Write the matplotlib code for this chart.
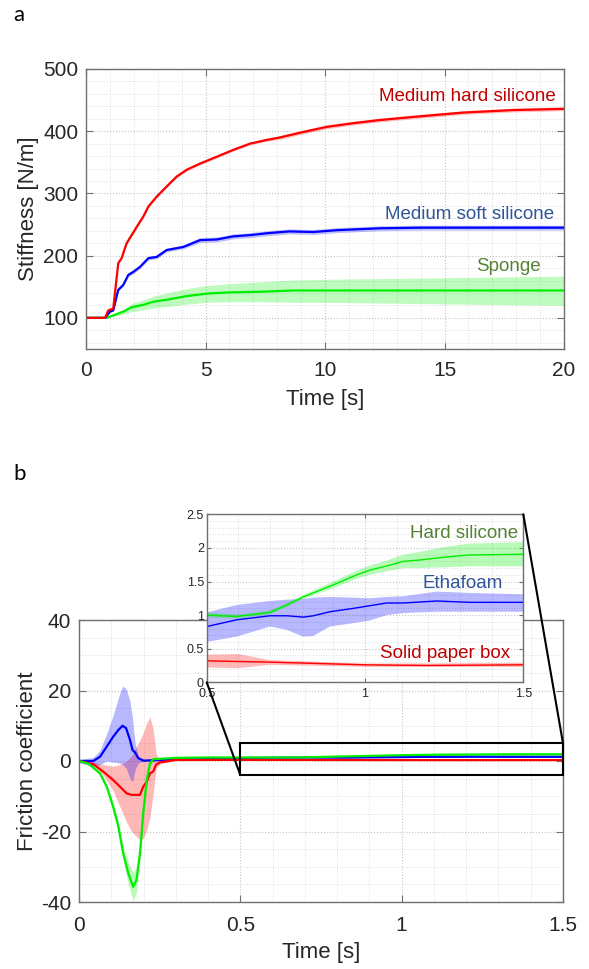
import matplotlib
matplotlib.use("Agg")
import matplotlib.pyplot as plt
from matplotlib.patches import Rectangle, ConnectionPatch
from matplotlib.ticker import MultipleLocator, FuncFormatter

plt.rcParams['font.family'] = ['Liberation Sans', 'DejaVu Sans']

# ---------------- Stiffness data (panel a) ----------------
hard_t = [0, 0.8, 0.93, 1.14, 1.35, 1.49, 1.70, 1.91, 2.15, 2.40, 2.61, 2.96, 3.37, 3.79,
          4.21, 4.77, 5.47, 6.16, 6.86, 7.56, 8.12, 9.0, 10.07, 11.2, 12.3, 13.7, 15.79,
          17.88, 20]
hard_k = [100, 100, 112, 115, 188, 196, 220, 233, 248, 263, 279, 295, 311, 327,
          338, 348, 359, 370, 380, 386, 390, 398, 407, 413, 418, 423, 430,
          434, 436]
hard_sd = [0, 0, 1, 1, 2, 2, 2, 2, 2, 2, 2, 2, 2, 2,
           2, 2, 2, 2, 2, 2, 3, 3, 3, 3, 3, 3, 3,
           3, 3]

soft_t = [0, 0.8, 1.0, 1.14, 1.35, 1.56, 1.77, 1.98, 2.26, 2.61, 2.96, 3.37, 4.07, 4.77,
          5.47, 6.16, 6.86, 7.56, 8.5, 9.5, 10.5, 12.3, 14, 16, 18, 20]
soft_k = [100, 100, 110, 112, 145, 153, 169, 174, 182, 196, 198, 209, 214, 225,
          226, 231, 233, 236, 239, 238, 241, 244, 245, 245, 245, 245]
soft_sd = [0, 0, 1, 1, 2, 2, 2, 3, 3, 3, 3, 3, 3, 4,
           4, 4, 4, 4, 4, 4, 4, 4, 4, 4, 4, 4]

sponge_t = [0, 0.86, 1.21, 1.56, 1.91, 2.40, 2.82, 3.51, 4.21, 5.05, 6.03, 7.28, 8.67,
            10, 12, 14, 16, 18, 20]
sponge_k = [100, 100, 105, 110, 117, 121, 126, 130, 135, 139, 141, 142, 144,
            144, 144, 144, 144, 144, 144]
sponge_lo = [100, 100, 103, 106, 110, 113, 116, 119, 122, 125, 126, 126, 125,
             125, 124, 123, 122, 121, 120]
sponge_hi = [100, 100, 107, 114, 123, 129, 135, 141, 147, 152, 155, 158, 161,
             162, 163, 164, 165, 166, 167]

# ---------------- Friction data (panel b) ----------------
etha_t = [0, 0.044, 0.065, 0.086, 0.106, 0.122, 0.135, 0.146, 0.158, 0.166, 0.174, 0.184,
          0.2, 0.25, 0.35, 0.5, 0.595, 0.7, 0.753, 0.805, 0.837, 0.889, 0.963, 1.016,
          1.068, 1.121, 1.226, 1.33, 1.5]
etha_mu = [0, 0, 1.2, 4.1, 6.9, 8.8, 10, 9.3, 6, 3.1, 2.4, 0.8,
           0.1, 0.3, 0.6, 0.83, 0.93, 0.99, 0.99, 0.97, 0.99, 1.05, 1.1, 1.14,
           1.18, 1.18, 1.21, 1.19, 1.19]
etha_hi = [0.5, 1.0, 3, 7.8, 13, 18, 21.3, 20.5, 17, 12, 5, 1.2,
           0.4, 0.6, 0.9, 1.04, 1.15, 1.21, 1.23, 1.24, 1.26, 1.27, 1.26, 1.25,
           1.27, 1.28, 1.35, 1.33, 1.31]
etha_lo = [-0.5, -1.5, -1.0, 0, -0.3, -0.5, -1, -2, -5, -5.9, -2.5, -0.5,
           -0.1, 0.0, 0.3, 0.6, 0.68, 0.83, 0.78, 0.68, 0.69, 0.83, 0.88, 0.92,
           1.0, 1.03, 1.05, 1.05, 1.05]

paper_t = [0, 0.044, 0.075, 0.106, 0.127, 0.148, 0.163, 0.189, 0.199, 0.21, 0.22, 0.23,
           0.239, 0.251, 0.3, 0.5, 0.6, 0.7, 1.0, 1.2, 1.5]
paper_mu = [0, -0.9, -3, -5.4, -7.3, -9.2, -9.6, -9.6, -7.3, -5.9, -3.5, -3,
            -1, -0.4, 0.3, 0.32, 0.31, 0.30, 0.26, 0.25, 0.26]
paper_hi = [0.3, -0.2, -1.0, -1.5, -1.0, 0, 1.5, 6, 8, 10.8, 12.5, 9,
            2, 0.2, 0.4, 0.41, 0.42, 0.33, 0.28, 0.28, 0.29]
paper_lo = [-0.3, -1.2, -4, -8.5, -13, -17.5, -20, -22.4, -22, -19.6, -16, -9,
            -2, -0.8, 0.2, 0.22, 0.21, 0.26, 0.23, 0.23, 0.23]

hsil_t = [0, 0.03, 0.065, 0.086, 0.106, 0.122, 0.137, 0.153, 0.168, 0.178, 0.189, 0.199,
          0.21, 0.22, 0.23, 0.3, 0.4, 0.5, 0.595, 0.7, 0.753, 0.805, 0.858, 0.91, 0.974,
          1.016, 1.068, 1.121, 1.174, 1.247, 1.33, 1.5]
hsil_mu = [0, -0.8, -3.5, -7.3, -13, -18.6, -26.2, -31.9, -35.7, -33.8, -26.2, -14.8,
           -5.4, -0.7, 0.5, 0.9, 1.0, 1.0, 0.98, 1.04, 1.15, 1.27, 1.37, 1.47, 1.6,
           1.67, 1.73, 1.8, 1.82, 1.86, 1.895, 1.905]
hsil_sd = [0.2, 0.3, 0.5, 0.8, 1, 1.5, 2, 3, 4, 3.5, 2.5, 2,
           1.5, 0.8, 0.3, 0.05, 0.05, 0.04, 0.03, 0.03, 0.03, 0.03, 0.04, 0.05, 0.06,
           0.07, 0.08, 0.1, 0.12, 0.15, 0.17, 0.18]

RED, BLUE, GREEN = '#ff0000', '#0000ff', '#00ee00'
TXT_RED, TXT_BLUE, TXT_GREEN = '#c00000', '#2f5597', '#548235'
FRAME = '#707070'
TICKTXT = '#262626'


def fmt(v, _pos):
    return '%g' % v


def style(ax, xmaj, xmin, ymaj, ymin, size, pad_x, pad_y, length=5):
    ax.xaxis.set_major_locator(MultipleLocator(xmaj))
    ax.xaxis.set_minor_locator(MultipleLocator(xmin))
    ax.yaxis.set_major_locator(MultipleLocator(ymaj))
    ax.yaxis.set_minor_locator(MultipleLocator(ymin))
    ax.xaxis.set_major_formatter(FuncFormatter(fmt))
    ax.yaxis.set_major_formatter(FuncFormatter(fmt))
    ax.tick_params(which='both', direction='in', top=True, right=True,
                   color=FRAME, labelcolor=TICKTXT, labelsize=size)
    ax.tick_params(which='major', length=length, width=0.8)
    ax.tick_params(which='minor', length=0)
    ax.tick_params(axis='x', pad=pad_x)
    ax.tick_params(axis='y', pad=pad_y)
    ax.grid(which='major', ls=':', color='#c4c4c4', lw=0.8)
    ax.grid(which='minor', ls=':', color='#dedede', lw=0.7)
    ax.set_axisbelow(True)
    for s in ax.spines.values():
        s.set_color(FRAME)
        s.set_linewidth(1.0)


fig = plt.figure(figsize=(5.89, 9.69), dpi=100)

# ---------------- Panel a ----------------
ax_a = fig.add_axes([86 / 589, 1 - 349 / 969, 478 / 589, 280 / 969])
for t, k, sd, c in [(sponge_t, sponge_k, None, GREEN),
                    (soft_t, soft_k, soft_sd, BLUE),
                    (hard_t, hard_k, hard_sd, RED)]:
    if sd is None:
        ax_a.fill_between(t, sponge_lo, sponge_hi, color=c, alpha=0.25, lw=0)
    else:
        ax_a.fill_between(t, [a - b for a, b in zip(k, sd)], [a + b for a, b in zip(k, sd)],
                          color=c, alpha=0.25, lw=0)
    ax_a.plot(t, k, color=c, lw=1.6)
ax_a.set_xlim(0, 20)
ax_a.set_ylim(50, 500)
style(ax_a, 5, 1, 100, 20, 15, 9, 5.5)
ax_a.set_yticks([100, 200, 300, 400, 500])
ax_a.set_xlabel('Time [s]', fontsize=16, color=TICKTXT, labelpad=6)
ax_a.set_ylabel('Stiffness [N/m]', fontsize=16, color=TICKTXT, labelpad=3)
ax_a.text(19.67, 448.6, 'Medium hard silicone', color=TXT_RED, fontsize=13.5,
          ha='right', va='baseline')
ax_a.text(19.58, 258.4, 'Medium soft silicone', color=TXT_BLUE, fontsize=13.5,
          ha='right', va='baseline')
ax_a.text(19.04, 175.8, 'Sponge', color=TXT_GREEN, fontsize=13.5,
          ha='right', va='baseline')

# ---------------- Panel b ----------------
ax_b = fig.add_axes([79 / 589, 1 - 902 / 969, 484 / 589, 282 / 969])
ax_in = fig.add_axes([206.7 / 589, 1 - 682.3 / 969, 316.6 / 589, 168 / 969])
ax_in.set_zorder(ax_b.get_zorder() + 1)
ax_in.set_facecolor('white')

for ax, lw in [(ax_b, 1.6), (ax_in, 1.0)]:
    ax.fill_between(paper_t, paper_lo, paper_hi, color=RED, alpha=0.28, lw=0)
    ax.fill_between(etha_t, etha_lo, etha_hi, color=BLUE, alpha=0.28, lw=0)
    ax.fill_between(hsil_t, [a - b for a, b in zip(hsil_mu, hsil_sd)],
                    [a + b for a, b in zip(hsil_mu, hsil_sd)], color=GREEN, alpha=0.28, lw=0)
    ax.plot(etha_t, etha_mu, color=BLUE, lw=lw)
    ax.plot(paper_t, paper_mu, color=RED, lw=lw)
    ax.plot(hsil_t, hsil_mu, color=GREEN, lw=lw)

ax_b.set_xlim(0, 1.5)
ax_b.set_ylim(-40, 40)
style(ax_b, 0.5, 0.1, 20, 5, 15, 10, 5.5)
ax_b.set_xlabel('Time [s]', fontsize=16, color=TICKTXT, labelpad=5)
ax_b.set_ylabel('Friction coefficient', fontsize=16, color=TICKTXT, labelpad=2)
ax_b.add_patch(Rectangle((0.5, -4), 1.0, 9, fill=False, ec='black', lw=1.5,
                         clip_on=False, zorder=5))

ax_in.set_xlim(0.5, 1.5)
ax_in.set_ylim(0, 2.5)
style(ax_in, 0.5, 0.1, 0.5, 0.1, 9, 4, 2, length=3)
ax_in.text(1.484, 2.14, 'Hard silicone', color=TXT_GREEN, fontsize=13.5,
           ha='right', va='baseline')
ax_in.text(1.437, 1.41, 'Ethafoam', color=TXT_BLUE, fontsize=13.5,
           ha='right', va='baseline')
ax_in.text(1.458, 0.367, 'Solid paper box', color=TXT_RED, fontsize=13.5,
           ha='right', va='baseline')

# zoom connector lines between the boxed region and the inset
for xy_in, xy_main in [((0.5, 0), (0.5, -4)), ((1.5, 2.5), (1.5, 5))]:
    con = ConnectionPatch(xyA=xy_in, coordsA=ax_in.transData,
                          xyB=xy_main, coordsB=ax_b.transData,
                          color='black', lw=1.5, zorder=10)
    fig.add_artist(con)

# panel letters
fig.text(13 / 589, 1 - 21 / 969, 'a', fontsize=16, family=['Lato', 'DejaVu Sans'],
         ha='left', va='baseline', color='black')
fig.text(13 / 589, 1 - 480 / 969, 'b', fontsize=16, family=['Lato', 'DejaVu Sans'],
         ha='left', va='baseline', color='black')

fig.savefig('out.png', dpi=100)
